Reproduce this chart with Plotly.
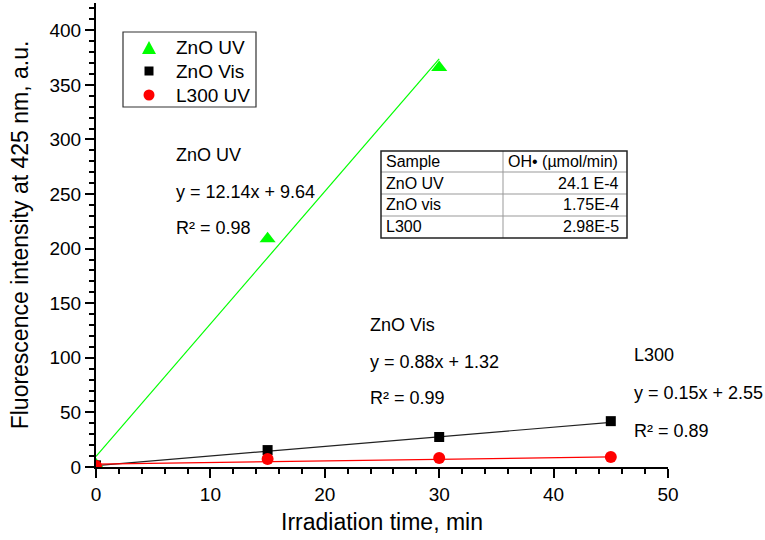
import plotly.graph_objects as go

# measured points
time_uv = [0, 15, 30]
zno_uv = [2, 209, 366]
time_vis = [0, 15, 30, 45]
zno_vis = [1.5, 15.5, 27.5, 42]
l300_uv = [1, 7.3, 8.2, 9.2]

# linear fit end points
fit_uv_x = [0, 30]
fit_uv_y = [9.64, 373.8]
fit_vis_x = [0, 45]
fit_vis_y = [1.32, 40.9]
fit_l300_x = [0, 45]
fit_l300_y = [2.55, 9.3]

# table content
table_head = ["Sample", "OH• (µmol/min)"]
table_samples = ["ZnO UV", "ZnO vis", "L300"]
table_rates = ["24.1 E-4", "1.75E-4", "2.98E-5"]

series_names = ["ZnO UV", "ZnO Vis", "L300 UV"]
series_colors = ["#00ff00", "black", "#ff0000"]

FONT = "Arial, Liberation Sans, sans-serif"
W, H = 765, 540
L, R, T, B = 96, 97, 3, 73


def px(x):
    return (x - L) / (W - L - R)


def py(y):
    return (H - B - y) / (H - T - B)


fig = go.Figure()

fig.add_trace(go.Scatter(x=fit_uv_x, y=fit_uv_y, mode="lines",
                         line=dict(color=series_colors[0], width=1.2), showlegend=False))
fig.add_trace(go.Scatter(x=fit_vis_x, y=fit_vis_y, mode="lines",
                         line=dict(color="#222222", width=1.2), showlegend=False))
fig.add_trace(go.Scatter(x=fit_l300_x, y=fit_l300_y, mode="lines",
                         line=dict(color=series_colors[2], width=1.2), showlegend=False))

fig.add_trace(go.Scatter(x=time_uv, y=zno_uv, mode="markers", name=series_names[0],
                         marker=dict(symbol="triangle-up", size=14, color=series_colors[0]),
                         showlegend=False))
fig.add_trace(go.Scatter(x=time_vis, y=zno_vis, mode="markers", name=series_names[1],
                         marker=dict(symbol="square", size=10, color=series_colors[1]),
                         showlegend=False))
fig.add_trace(go.Scatter(x=time_vis, y=l300_uv, mode="markers", name=series_names[2],
                         marker=dict(symbol="circle", size=12, color=series_colors[2]),
                         showlegend=False))

# legend box (drawn by hand so the row spacing matches)
fig.add_shape(type="rect", xref="paper", yref="paper",
              x0=px(123), x1=px(256), y0=py(32), y1=py(107),
              line=dict(color="#333333", width=1.2), fillcolor="white")
leg_y = [48, 71, 95]
mx = 149
# triangle
fig.add_shape(type="path", xref="paper", yref="paper",
              path=f"M {px(mx - 7)} {py(leg_y[0] + 6)} L {px(mx + 7)} {py(leg_y[0] + 6)} "
                   f"L {px(mx)} {py(leg_y[0] - 7)} Z",
              line=dict(width=0), fillcolor=series_colors[0])
fig.add_shape(type="rect", xref="paper", yref="paper",
              x0=px(mx - 4.5), x1=px(mx + 4.5), y0=py(leg_y[1] - 4.5), y1=py(leg_y[1] + 4.5),
              line=dict(width=0), fillcolor=series_colors[1])
fig.add_shape(type="circle", xref="paper", yref="paper",
              x0=px(mx - 5.5), x1=px(mx + 5.5), y0=py(leg_y[2] - 5.5), y1=py(leg_y[2] + 5.5),
              line=dict(width=0), fillcolor=series_colors[2])
for yy, name in zip(leg_y, series_names):
    fig.add_annotation(x=px(174), y=py(yy), xref="paper", yref="paper",
                       text=name, showarrow=False, xanchor="left", yanchor="middle",
                       font=dict(size=19, color="black", family=FONT))

# equation labels
labels = [
    (174, [155, 192, 228], ["ZnO UV", "y = 12.14x + 9.64", "R² = 0.98"]),
    (368, [325, 362, 398], ["ZnO Vis", "y = 0.88x + 1.32", "R² = 0.99"]),
    (632, [355, 393, 431], ["L300", "y = 0.15x + 2.55", "R² = 0.89"]),
]
for x0, ys, texts in labels:
    for yy, t in zip(ys, texts):
        fig.add_annotation(x=px(x0), y=py(yy), xref="paper", yref="paper",
                           text=t, showarrow=False, xanchor="left", yanchor="middle",
                           font=dict(size=18, color="black", family=FONT))

# table drawn with shapes
tx0, tmid, tx1 = 381, 503, 627
rows = [151, 172, 194, 216, 238]
for yy in rows[1:-1]:
    fig.add_shape(type="line", xref="paper", yref="paper",
                  x0=px(tx0), x1=px(tx1), y0=py(yy), y1=py(yy),
                  line=dict(color="#999999", width=1))
fig.add_shape(type="line", xref="paper", yref="paper",
              x0=px(tmid), x1=px(tmid), y0=py(rows[0]), y1=py(rows[-1]),
              line=dict(color="#999999", width=1))
fig.add_shape(type="rect", xref="paper", yref="paper",
              x0=px(tx0), x1=px(tx1), y0=py(rows[0]), y1=py(rows[-1]),
              line=dict(color="#222222", width=1.5))

cells = [(table_head[0], table_head[1], "left")]
cells += [(s, r, "right") for s, r in zip(table_samples, table_rates)]
for i, (c1, c2, al) in enumerate(cells):
    yc = (rows[i] + rows[i + 1]) / 2
    fig.add_annotation(x=px(tx0 + 3), y=py(yc), xref="paper", yref="paper",
                       text=c1, showarrow=False, xanchor="left", yanchor="middle",
                       font=dict(size=16, color="black", family=FONT))
    if al == "left":
        fig.add_annotation(x=px(tmid + 3), y=py(yc), xref="paper", yref="paper",
                           text=c2, showarrow=False, xanchor="left", yanchor="middle",
                           font=dict(size=16, color="black", family=FONT))
    else:
        fig.add_annotation(x=px(tx1 - 6), y=py(yc), xref="paper", yref="paper",
                           text=c2, showarrow=False, xanchor="right", yanchor="middle",
                           font=dict(size=16, color="black", family=FONT))

axis_common = dict(
    showline=True, linecolor="black", linewidth=2, mirror=False,
    showgrid=False, zeroline=False,
    ticks="outside", ticklen=9, tickwidth=1.5, tickcolor="black",
    tickfont=dict(size=19, color="black", family=FONT),
    title_font=dict(size=23, color="black", family=FONT),
    minor=dict(ticks="outside", ticklen=5, tickwidth=1.5, tickcolor="black", showgrid=False),
)

fig.update_xaxes(range=[0, 50], dtick=10, title_text="Irradiation time, min",
                 title_standoff=10, **axis_common)
fig.update_yaxes(range=[0, 425], dtick=50, title_text="Fluorescence intensity at 425 nm, a.u.",
                 title_standoff=14, **axis_common)

fig.update_layout(
    width=W, height=H,
    margin=dict(l=L, r=R, t=T, b=B),
    paper_bgcolor="white", plot_bgcolor="white",
    font=dict(family=FONT, color="black"),
    showlegend=False,
)

fig.write_html("out.html", config={"displayModeBar": False},
               post_script="document.body.style.margin='0';document.body.style.overflow='hidden';")
